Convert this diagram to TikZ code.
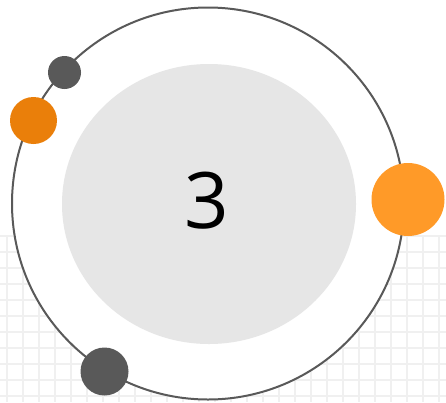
\documentclass[tikz,border=0pt]{standalone}
\usepackage{fontspec}
\usetikzlibrary{shapes.geometric}
\setmainfont{Open Sans}
\definecolor{gridc}{HTML}{F0F0F0}
\definecolor{ringc}{HTML}{595959}
\definecolor{innerc}{HTML}{E6E6E6}
\definecolor{dotgray}{HTML}{595959}
\definecolor{orangeA}{HTML}{FF9A28}
\definecolor{orangeB}{HTML}{EA7F0A}
\tikzset{
  gridline/.style={draw=gridc, line width=1.7pt},
  ring/.style={draw=ringc, line width=2pt, fill=white},
  dot/.style={circle, inner sep=0pt, draw=none},
}
\begin{document}
\begin{tikzpicture}[x=1pt,y=-1pt]
\useasboundingbox (0,0) rectangle (446,402);
\fill[white] (0,0) rectangle (446,402);
% grid
\foreach \yy in {236,252,...,400} {\draw[gridline] (0,\yy) -- (446,\yy);}
\foreach \xx in {7,23,...,439} {\draw[gridline] (\xx,236) -- (\xx,402);}
% main ring
\node[ring, circle, minimum size=392pt, inner sep=0pt] (ring) at (208,203.5) {};
% inner ellipse
\node[ellipse, fill=innerc, minimum width=294pt, minimum height=280pt, inner sep=0pt] (inner) at (209,204) {};
\node[font=\fontsize{78}{80}\selectfont, inner sep=0pt] (num) at (207,201) {3};
% dots
\node[dot, fill=dotgray, minimum size=33pt] (d1) at (64.5,72.5) {};
\node[dot, fill=orangeB, minimum size=47pt] (d2) at (33.5,120.5) {};
\node[dot, fill=orangeA, minimum size=73pt] (d3) at (408,199.5) {};
\node[dot, fill=dotgray, minimum size=48pt] (d4) at (104.5,371.5) {};
\end{tikzpicture}
\end{document}
